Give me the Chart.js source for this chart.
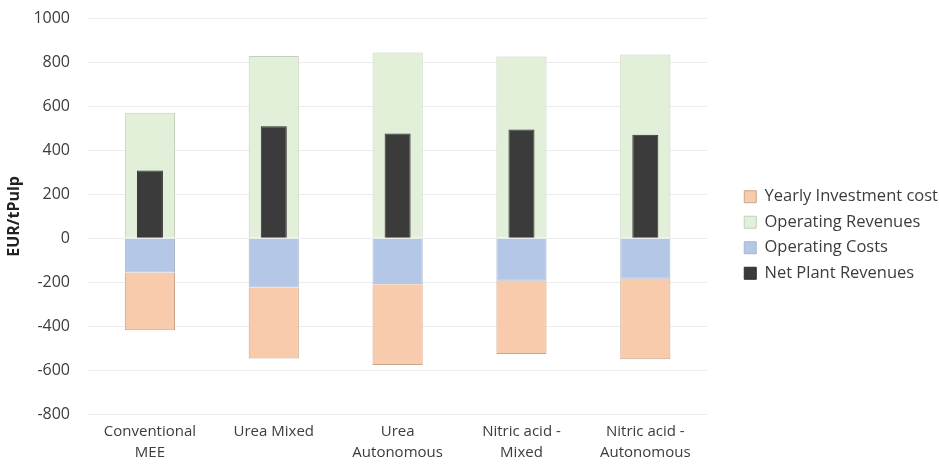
<!DOCTYPE html>
<html>
<head>
<meta charset="utf-8">
<script src="https://cdn.jsdelivr.net/npm/chart.js@4.4.1/dist/chart.umd.min.js"></script>
<style>
  html, body { margin: 0; padding: 0; background: #ffffff; }
  #wrap { width: 939px; height: 468px; position: relative; }
</style>
</head>
<body>
<div id="wrap"><canvas id="c" width="939" height="468"></canvas></div>
<script>
// Pulp plant economics per tonne of pulp (EUR/tPulp)
const categories = [
  ["Conventional", "MEE"],
  ["Urea Mixed"],
  ["Urea", "Autonomous"],
  ["Nitric acid -", "Mixed"],
  ["Nitric acid -", "Autonomous"]
];
const yearlyInvestmentCost = [-264, -323, -368, -334, -367];
const operatingRevenues    = [572, 831, 846, 828, 837];
const operatingCosts       = [-155, -224, -209, -193, -184];
const netPlantRevenues     = [309, 511, 478, 496, 472];
const yTicks = { min: -800, max: 1000, step: 200 };

const FONT = "'Open Sans', sans-serif";
const TEXT = "#3c3c3c";

new Chart(document.getElementById("c"), {
  type: "bar",
  data: {
    labels: categories,
    datasets: [
      {
        label: "Yearly Investment cost",
        data: yearlyInvestmentCost,
        backgroundColor: "#F8CBAD",
        borderColor: "#C9A48C",
        borderWidth: 1,
        stack: "main",
        order: 2,
        barPercentage: 0.81,
        categoryPercentage: 0.5
      },
      {
        label: "Operating Revenues",
        data: operatingRevenues,
        backgroundColor: "#E2F0D9",
        borderColor: "#C4CFBC",
        borderWidth: 1,
        stack: "main",
        order: 3,
        barPercentage: 0.81,
        categoryPercentage: 0.5
      },
      {
        label: "Operating Costs",
        data: operatingCosts,
        backgroundColor: "#B4C7E7",
        borderColor: "#A9B6CC",
        borderWidth: 1,
        stack: "main",
        order: 1,
        barPercentage: 0.81,
        categoryPercentage: 0.5
      },
      {
        label: "Net Plant Revenues",
        data: netPlantRevenues,
        backgroundColor: "#3B3B3B",
        borderColor: "#2E2E2E",
        borderWidth: 1,
        stack: "net",
        order: 0,
        barPercentage: 0.42,
        categoryPercentage: 0.5
      }
    ]
  },
  options: {
    responsive: false,
    animation: false,
    grouped: false,
    layout: { padding: { left: 0, right: -9, top: 0, bottom: -2 } },
    plugins: {
      tooltip: { enabled: false },
      legend: {
        position: "right",
        align: "center",
        maxWidth: 320,
        labels: {
          font: { family: FONT, size: 16.5 },
          color: TEXT,
          boxWidth: 12,
          boxHeight: 12,
          padding: 9,
          sort: (a, b) => a.datasetIndex - b.datasetIndex
        }
      }
    },
    scales: {
      x: {
        stacked: true,
        grid: { display: false, drawTicks: false },
        border: { display: false },
        ticks: {
          font: { family: FONT, size: 15, lineHeight: 1.4 },
          color: TEXT,
          maxRotation: 0,
          autoSkip: false,
          padding: 7
        }
      },
      y: {
        stacked: true,
        min: yTicks.min,
        max: yTicks.max,
        border: { display: false },
        grid: { color: "#ECECEC", lineWidth: 1, drawTicks: false },
        ticks: {
          stepSize: yTicks.step,
          // single-line labels: a tiny line height keeps the top margin tight
          font: { family: FONT, size: 16, lineHeight: 0.1 },
          color: TEXT,
          padding: 18,
          callback: (v) => String(v)
        },
        title: {
          display: true,
          text: "EUR/tPulp",
          font: { family: FONT, size: 16, weight: "bold" },
          color: "#222222",
          padding: { top: 5, bottom: 0 }
        },
        afterFit: (s) => { s.width = 88; }
      },
      // empty right-hand axis that only keeps a gap between plot and legend
      gap: {
        type: "linear",
        position: "right",
        display: true,
        grid: { display: false },
        border: { display: false },
        ticks: { display: false },
        afterFit: (s) => { s.width = 28; }
      }
    }
  }
});
</script>
</body>
</html>
